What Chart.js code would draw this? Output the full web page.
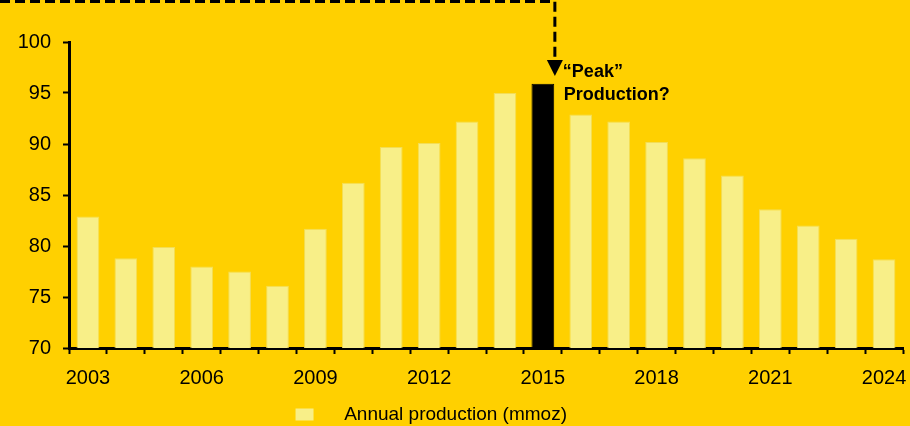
<!DOCTYPE html>
<html>
<head>
<meta charset="utf-8">
<script src="https://cdn.jsdelivr.net/npm/chart.js@4"></script>
<style>
  html, body { margin: 0; padding: 0; background: #FFD000; }
  #wrap { width: 910px; height: 426px; }
</style>
</head>
<body>
<div id="wrap"><canvas id="prodChart" width="910" height="426"></canvas></div>
<script>
const years = ["2003", "2004", "2005", "2006", "2007", "2008", "2009", "2010", "2011", "2012", "2013",
  "2014", "2015", "2016", "2017", "2018", "2019", "2020", "2021", "2022", "2023", "2024"];
const production = [82.9, 78.8, 79.9, 78.0, 77.5, 76.1, 81.7, 86.2, 89.7, 90.1, 92.2,
  95.0, 95.9, 92.9, 92.2, 90.2, 88.6, 86.9, 83.6, 82.0, 80.7, 78.7];
const peakYear = "2015";
const yTicks = [70, 75, 80, 85, 90, 95, 100];

const paleColor = "#F8EF88";
const paleBorder = "#F3DD55";
const barColors = years.map(y => y === peakYear ? "#000000" : paleColor);
const borderColors = years.map(y => y === peakYear ? "#000000" : paleBorder);

const fontFamily = 'Arial, "Liberation Sans", sans-serif';

// dashed callout line + arrow pointing at the peak bar
const peakCallout = {
  id: 'peakCallout',
  afterLayout(chart) {
    // push the legend a bit lower, like the original
    chart.legend.top += 8;
    chart.legend.bottom += 8;
  },
  afterDraw(chart) {
    const ctx = chart.ctx;
    const xs = chart.scales.x;
    const idx = years.indexOf(peakYear);
    const lx = xs.getPixelForValue(idx) + 12;
    ctx.save();
    ctx.strokeStyle = '#000';
    ctx.lineWidth = 3;
    ctx.setLineDash([10, 5]);
    ctx.beginPath();
    ctx.moveTo(0, 1.5);
    ctx.lineTo(lx, 1.5);
    ctx.lineTo(lx, 62);
    ctx.stroke();
    ctx.setLineDash([]);
    ctx.fillStyle = '#000';
    ctx.beginPath();
    ctx.moveTo(lx - 8, 60);
    ctx.lineTo(lx + 8, 60);
    ctx.lineTo(lx, 76);
    ctx.closePath();
    ctx.fill();
    ctx.font = 'bold 18px ' + fontFamily;
    ctx.textAlign = 'left';
    ctx.textBaseline = 'alphabetic';
    ctx.fillText('\u201CPeak\u201D', lx + 8, 77);
    ctx.fillText('Production?', lx + 9, 100);
    ctx.restore();
  }
};

let ctx = document.getElementById('prodChart').getContext('2d');

let prodChart = new Chart(ctx, {
  type: "bar",
  data: {
    labels: years,
    datasets: [{
      label: "Annual production (mmoz)",
      data: production,
      backgroundColor: barColors,
      borderColor: borderColors,
      borderWidth: 1,
      barPercentage: 0.6,
      categoryPercentage: 1.0,
    }]
  },
  options: {
    responsive: false,
    animation: false,
    layout: {
      padding: { top: 42, right: 0, left: 0, bottom: 0 }
    },
    plugins: {
      tooltip: { enabled: false },
      legend: {
        display: true,
        position: 'bottom',
        labels: {
          boxWidth: 18,
          boxHeight: 12,
          padding: 2,
          color: '#000',
          font: { family: fontFamily, size: 19 },
          generateLabels: () => [{
            text: '    Annual production (mmoz)         ',
            fillStyle: paleColor,
            strokeStyle: paleColor,
            lineWidth: 0,
            hidden: false,
            datasetIndex: 0,
          }]
        }
      }
    },
    scales: {
      x: {
        grid: {
          display: true,
          drawOnChartArea: false,
          drawTicks: true,
          tickLength: 6,
          tickWidth: 2,
          tickColor: '#000',
          offset: true,
        },
        border: { display: true, color: '#000', width: 3 },
        ticks: {
          autoSkip: false,
          maxRotation: 0,
          padding: 12,
          color: '#000',
          font: { family: fontFamily, size: 20 },
          callback: function (val, i) {
            return i % 3 === 0 ? years[i] : '';
          }
        },
        afterFit: (scale) => {
          scale.height = 47;
          scale.paddingLeft = 0;
          scale.paddingRight = 7;
        }
      },
      y: {
        min: 70,
        max: 100,
        afterBuildTicks: (scale) => { scale.ticks = yTicks.map(v => ({ value: v })); },
        grid: {
          display: true,
          drawOnChartArea: false,
          drawTicks: true,
          tickLength: 6,
          tickWidth: 2,
          tickColor: '#000',
        },
        border: { display: true, color: '#000', width: 3 },
        ticks: {
          padding: 12,
          color: '#000',
          font: { family: fontFamily, size: 20 },
        },
        afterFit: (scale) => { scale.width = 69; }
      }
    }
  },
  plugins: [peakCallout]
});
</script>
</body>
</html>
